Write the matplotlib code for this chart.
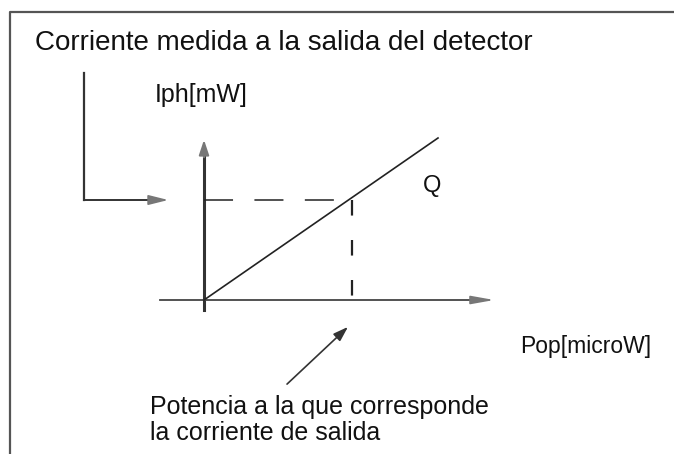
import matplotlib
matplotlib.use("Agg")
from matplotlib import pyplot as plt

plt.rcParams['font.family'] = ['Liberation Sans', 'DejaVu Sans']

# response line Iph vs Pop (origin at the axes crossing)
pop = [0, 234]
iph = [0, 162]
# operating point Q
q_pop = 148
q_iph = 100

title = "Corriente medida a la salida del detector"
ylabel = "Iph[mW]"
xlabel = "Pop[microW]"
note = ["Potencia a la que corresponde", "la corriente de salida"]

fig = plt.figure(figsize=(6.74, 4.54), dpi=100)
ax = fig.add_axes([0, 0, 1, 1])
ax.set_xlim(-204, 470)
ax.set_ylim(-154, 300)
ax.axis('off')

# frame of the scanned figure
ax.plot([-194, -194, 470], [-154, 288, 288], color='#555555', lw=1.6)

# axes with arrows
ax.plot([0, 0], [-10, 150], color='#333333', lw=2.2)
ax.annotate('', xy=(0, 163), xytext=(0, 140),
            arrowprops=dict(arrowstyle='-|>,head_length=0.9,head_width=0.3',
                            color='#777777', lw=1.5))
ax.plot([-44, 275], [0, 0], color='#444444', lw=1.3)
ax.annotate('', xy=(293, 0), xytext=(265, 0),
            arrowprops=dict(arrowstyle='-|>,head_length=1.4,head_width=0.25',
                            color='#777777', lw=1.2))

# characteristic line
ax.plot(pop, iph, color='#222222', lw=1.2)

# dashed projections of Q
ax.plot([0, q_pop], [q_iph, q_iph], color='#222222', lw=1.1, dashes=(19, 14))
ax.plot([q_pop, q_pop], [q_iph, -6], color='#222222', lw=1.6, dashes=(7, 11))

# L-shaped pointer to the current level
ax.plot([-120, -120], [227, q_iph], color='#333333', lw=1.6)
ax.plot([-120, -50], [q_iph, q_iph], color='#333333', lw=1.4)
ax.annotate('', xy=(-33, q_iph), xytext=(-55, q_iph),
            arrowprops=dict(arrowstyle='-|>,head_length=1.2,head_width=0.3',
                            color='#777777', lw=1.2))

# pointer to the power value
ax.annotate('', xy=(146, -25), xytext=(81, -86),
            arrowprops=dict(arrowstyle='-|>,head_length=0.9,head_width=0.3',
                            color='#333333', lw=1.2))

ax.text(-169, 257, title, fontsize=20, va='center', ha='left', color='#111111')
ax.text(-49, 205, ylabel, fontsize=18, va='center', ha='left', color='#111111')
ax.text(228, 114, 'Q', fontsize=17, va='center', ha='center', color='#111111')
ax.text(316, -46, xlabel, fontsize=16.5, va='center', ha='left', color='#111111')
ax.text(-54, -107, note[0], fontsize=18, va='center', ha='left', color='#111111')
ax.text(-54, -133, note[1], fontsize=18, va='center', ha='left', color='#111111')

fig.savefig("out.png", dpi=100)
